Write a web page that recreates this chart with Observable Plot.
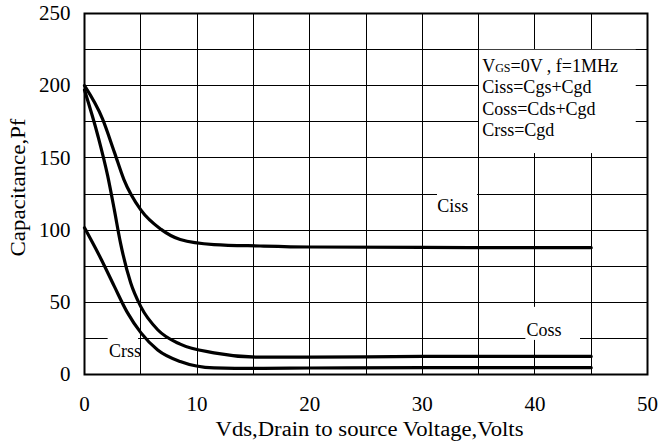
<!DOCTYPE html>
<html>
<head>
<meta charset="utf-8">
<script src="https://cdn.jsdelivr.net/npm/d3@7"></script>
<script src="https://cdn.jsdelivr.net/npm/@observablehq/plot@0.6"></script>
<style>
  html, body { margin: 0; padding: 0; background: #fff; }
</style>
</head>
<body>
<div id="chart"></div>
<script>
// ---- data ----
const cissVds = [0, 1.6, 2.65, 3.5, 5, 6.8, 8.5, 11.5, 15.6, 20, 30, 40, 45];
const cissPf  = [200, 177, 154, 135, 114, 100.5, 93.5, 90, 89, 88.3, 88, 87.8, 87.8];

const cossVds = [0, 1.2, 2.06, 2.65, 3.2, 4.1, 5, 6.5, 8.5, 11.5, 15.6, 20, 30, 45];
const cossPf  = [197, 165, 137.5, 114, 91, 63.5, 47, 31, 21, 15, 12, 12, 12.5, 12.5];

const crssVds = [0, 1.47, 2.65, 3.8, 5, 6.5, 8.5, 11.5, 15.6, 20, 30, 45];
const crssPf  = [101.6, 80, 61, 43, 29, 17, 9, 4.6, 4.2, 4.5, 4.7, 4.7];

const seriesNames = ["Ciss", "Coss", "Crss"];

const xTicks = [0, 10, 20, 30, 40, 50];
const yTicks = [0, 50, 100, 150, 200, 250];
const xGrid = [0, 5, 10, 15, 20, 25, 30, 35, 40, 45, 50];
const yGrid = [0, 25, 50, 75, 100, 125, 150, 175, 200, 225, 250];

const xTitle = "Vds,Drain to source Voltage,Volts";
const yTitle = "Capacitance,Pf";

const legendLines = ["VGS=0V , f=1MHz", "Ciss=Cgs+Cgd", "Coss=Cds+Cgd", "Crss=Cgd"];

// annotation labels (data coordinates) and their white backgrounds
const curveLabels = [
  {text: "Ciss", vds: 32.7, pf: 116.3},
  {text: "Coss", vds: 40.8, pf: 30.4},
  {text: "Crss", vds: 3.6, pf: 16.3}
];
const labelBoxes = [
  {vds1: 31.35, vds2: 34.9, pf1: 108, pf2: 129},
  {vds1: 39.2, vds2: 44.05, pf1: 23.6, pf2: 46.5},
  {vds1: 2.1, vds2: 4.8, pf1: 10, pf2: 28.5},
  {vds1: 35.08, vds2: 49.0, pf1: 153, pf2: 224.55}
];
const legendAnchor = {vds: 35.32, pf: 220.2};

// ---- build table ----
const rows = [];
[[cissVds, cissPf], [cossVds, cossPf], [crssVds, crssPf]].forEach(([xs, ys], i) => {
  xs.forEach((v, j) => rows.push({series: seriesNames[i], vds: v, pf: ys[j]}));
});

const svg = Plot.plot({
  width: 659,
  height: 442,
  marginLeft: 84,
  marginRight: 12,
  marginTop: 13,
  marginBottom: 68,
  style: {
    fontFamily: "'Liberation Serif', 'Times New Roman', serif",
    fontSize: "21px",
    color: "black",
    background: "white"
  },
  x: {domain: [0, 50]},
  y: {domain: [0, 250]},
  marks: [
    Plot.gridX(xGrid, {stroke: "#000", strokeOpacity: 1, strokeWidth: 1, shapeRendering: "crispEdges"}),
    Plot.gridY(yGrid, {stroke: "#000", strokeOpacity: 1, strokeWidth: 1, shapeRendering: "crispEdges"}),
    Plot.rect(labelBoxes, {x1: "vds1", x2: "vds2", y1: "pf1", y2: "pf2", fill: "white"}),
    Plot.axisX({ticks: xTicks, tickSize: 0, tickPadding: 22, label: null, fontSize: 21}),
    Plot.axisY({ticks: yTicks, tickSize: 0, tickPadding: 14, label: null, fontSize: 21}),
    Plot.line(rows, {x: "vds", y: "pf", z: "series", curve: "monotone-x", stroke: "black", strokeWidth: 3.2}),
    Plot.frame({stroke: "black", strokeWidth: 2}),
    Plot.text(curveLabels, {x: "vds", y: "pf", text: "text", fontSize: 18, fill: "black"}),
    Plot.text([legendLines.join("\n")], {
      x: () => legendAnchor.vds, y: () => legendAnchor.pf,
      textAnchor: "start", lineAnchor: "top", lineHeight: 1.19, fontSize: 18, fill: "black"
    }),
    Plot.text([xTitle], {frameAnchor: "bottom", textAnchor: "start", dy: 61, dx: -150.5, fontSize: 20, fill: "black"}),
    Plot.text([yTitle], {frameAnchor: "left", textAnchor: "start", rotate: -90, dx: -65.5, dy: 62.5, fontSize: 20, fill: "black"})
  ]
});

// post-process: subscript GS and stretched axis titles
d3.select(svg).selectAll("tspan, text").each(function() {
  const el = d3.select(this);
  if (this.childElementCount === 0 && this.textContent === legendLines[0]) {
    this.textContent = "";
    el.append("tspan").text("V");
    el.append("tspan").attr("font-size", "12px").text("GS");
    el.append("tspan").text("=0V , f=1MHz");
  }
});
d3.select(svg).selectAll("text").each(function() {
  if (this.textContent === xTitle) {
    d3.select(this).attr("textLength", 308).attr("lengthAdjust", "spacingAndGlyphs");
  } else if (this.textContent === yTitle) {
    d3.select(this).attr("textLength", 138).attr("lengthAdjust", "spacingAndGlyphs");
  }
});

document.getElementById("chart").appendChild(svg);
</script>
</body>
</html>
